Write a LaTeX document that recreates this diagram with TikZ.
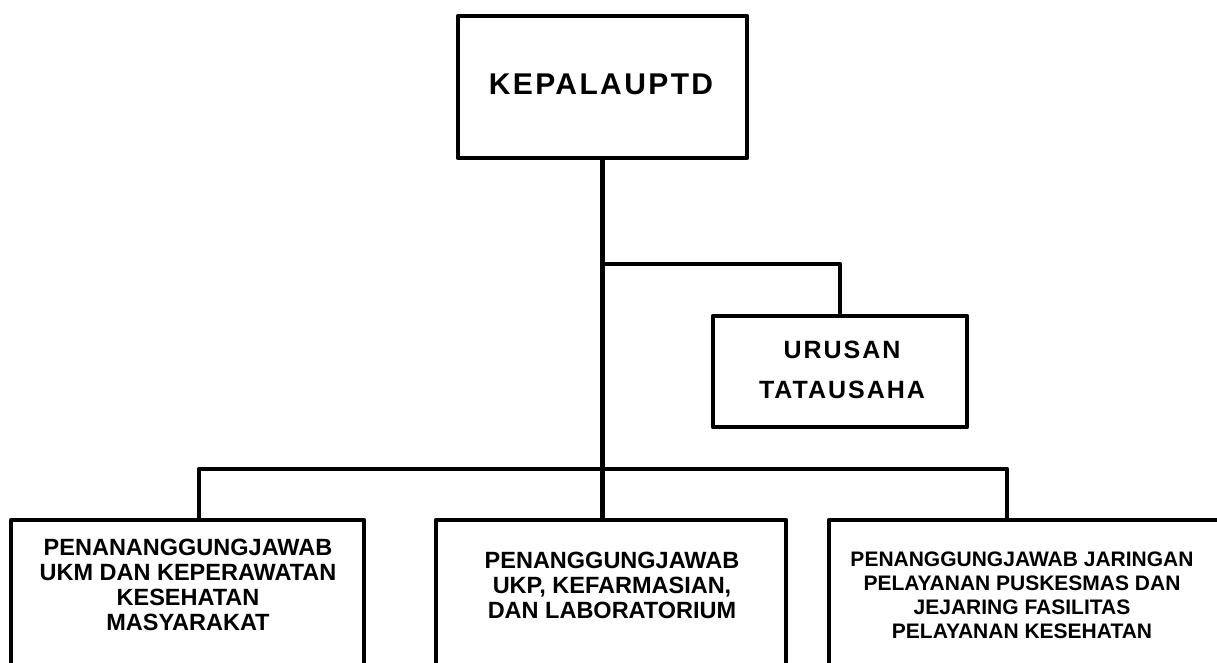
\documentclass[tikz,border=0pt]{standalone}
\usepackage{fontspec}
\setmainfont{Liberation Sans}
\newfontfamily\widefont[LetterSpace=8]{Liberation Sans}

\begin{document}
\begin{tikzpicture}[-,x=1pt,y=-1pt,line width=4.5pt,line join=round,
    box node/.style={rectangle,draw,line width=4.5pt,inner sep=0pt},
    text node/.style={anchor=north,align=center,inner sep=0pt,font=\bfseries}]

            \useasboundingbox (0,0) rectangle (1217,662);
            \clip (0,0) rectangle (1217,662);

            \node[box node, minimum width=289pt, minimum height=142pt] (kepala) at (602.5,87){};
            \node[box node, minimum width=254pt, minimum height=111pt] (urusan) at (840,371.5){};
            \node[box node, minimum width=353pt, minimum height=180pt] (ukm) at (187.5,610){};
            \node[box node, minimum width=350pt, minimum height=180pt] (ukp) at (611,610){};
            \node[box node, minimum width=400pt, minimum height=180pt] (jaringan) at (1029,610){};

            \node[text node, font=\widefont\bfseries\fontsize{30}{36}\selectfont] (kepala text) at (601,72){KEPALAUPTD};
            \node[text node, font=\widefont\bfseries\fontsize{25}{40}\selectfont] (urusan text) at (842,339){URUSAN\\TATAUSAHA};
            \node[text node, font=\bfseries\fontsize{23.5}{25}\selectfont] (ukm text) at (188,537){PENANANGGUNGJAWAB\\UKM DAN KEPERAWATAN\\KESEHATAN\\MASYARAKAT};
            \node[text node, font=\bfseries\fontsize{23.5}{25}\selectfont] (ukp text) at (612,550){PENANGGUNGJAWAB\\UKP, KEFARMASIAN,\\DAN LABORATORIUM};
            \node[text node, font=\bfseries\fontsize{21}{24}\selectfont] (jaringan text) at (1022,550){PENANGGUNGJAWAB JARINGAN\\PELAYANAN PUSKESMAS DAN\\JEJARING FASILITAS\\PELAYANAN KESEHATAN};

            \coordinate (split) at (602.5,264);
            \coordinate (bus left) at (199,469);
            \coordinate (bus right) at (1007,469);

            \draw[-] (kepala.south) to (kepala.south |- ukp.north);
            \draw[-] (split) -| (urusan.north);
            \draw[-] (ukm.north -| bus left) -- (bus left) -- (bus right) -- (jaringan.north -| bus right);

            ;
        \end{tikzpicture}
\end{document}
